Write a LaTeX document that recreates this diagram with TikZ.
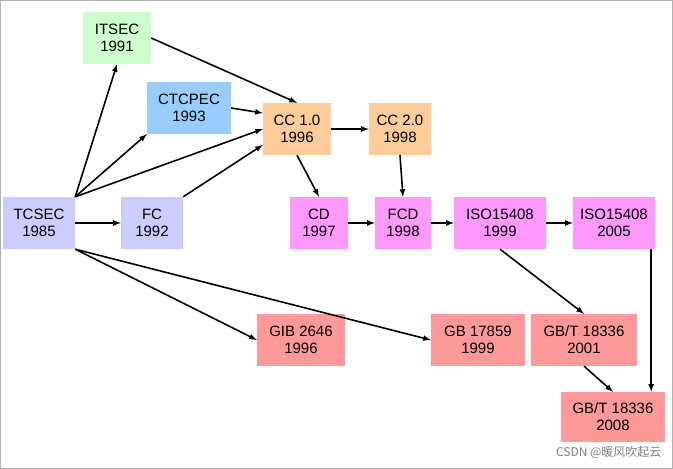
\documentclass[tikz,border=0pt]{standalone}
\usepackage{fontspec}
\setmainfont{Liberation Sans}
\newfontfamily\cjk{Noto Sans CJK SC}
\begin{document}
\begin{tikzpicture}[x=1pt,y=-1pt,
  box/.style={draw=none,minimum height=52pt,align=center,font=\fontsize{15}{17}\selectfont,inner sep=3pt},
  gr/.style={box,fill={rgb,255:red,204;green,255;blue,204}},
  bl/.style={box,fill={rgb,255:red,153;green,204;blue,255}},
  og/.style={box,fill={rgb,255:red,255;green,204;blue,153}},
  lv/.style={box,fill={rgb,255:red,204;green,204;blue,255}},
  mg/.style={box,fill={rgb,255:red,255;green,153;blue,255}},
  rd/.style={box,fill={rgb,255:red,255;green,153;blue,153}},
  ar/.style={-latex,line width=1.6pt}]
\useasboundingbox (0,0) rectangle (673,469);
\draw[gray!60] (0.5,0.5) rectangle (672.5,468.5);
\node[gr,minimum width=68pt] (itsec) at (117,38) {ITSEC\\1991};
\node[bl,minimum width=84pt] (ctc) at (189,108) {CTCPEC\\1993};
\node[og,minimum width=68pt] (cc1) at (297,129) {CC 1.0\\1996};
\node[og,minimum width=62pt] (cc2) at (400,129) {CC 2.0\\1998};
\node[lv,minimum width=72pt] (tcsec) at (39,223) {TCSEC\\1985};
\node[lv,minimum width=62pt] (fc) at (152,223) {FC\\1992};
\node[mg,minimum width=58pt] (cd) at (319,223) {CD\\1997};
\node[mg,minimum width=56pt] (fcd) at (403,223) {FCD\\1998};
\node[mg,minimum width=92pt] (iso1) at (500,223) {ISO15408\\1999};
\node[mg,minimum width=82pt] (iso2) at (614,223) {ISO15408\\2005};
\node[rd,minimum width=88pt] (gib) at (301,340) {GIB 2646\\1996};
\node[rd,minimum width=94pt] (gb) at (478,340) {GB 17859\\1999};
\node[rd,minimum width=106pt] (gbt1) at (584,340) {GB/T 18336\\2001};
\node[rd,minimum width=104pt,minimum height=50pt] (gbt2) at (613,417) {GB/T 18336\\2008};
\draw[ar] (tcsec.north east) -- (itsec.south);
\draw[ar] (tcsec.north east) -- (ctc.south west);
\draw[ar] (tcsec.north east) -- (cc1.west);
\draw[ar] (tcsec) -- (fc);
\draw[ar] (tcsec.south east) -- (gib.west);
\draw[ar] (tcsec.south east) -- (gb.west);
\draw[ar] (itsec.east) -- (cc1.north);
\draw[ar] (ctc.east) -- (cc1.155);
\draw[ar] (fc.north east) -- (cc1.205);
\draw[ar] (cc1) -- (cc2);
\draw[ar] (cc1.south) -- (cd.north);
\draw[ar] (cc2.south) -- (fcd.north);
\draw[ar] (cd) -- (fcd);
\draw[ar] (fcd) -- (iso1);
\draw[ar] (iso1) -- (iso2);
\draw[ar] (iso1.south) -- (gbt1.north);
\draw[ar] (gbt1.south) -- (gbt2.north);
\draw[ar] (iso2.south east) ++(-4,0) coordinate (a) (a) -- (a |- gbt2.north);
\node[text=gray,font=\cjk\fontsize{12}{14}\selectfont,anchor=east] (wm) at (665,452) {CSDN @暖风吹起云};
\end{tikzpicture}
\end{document}
